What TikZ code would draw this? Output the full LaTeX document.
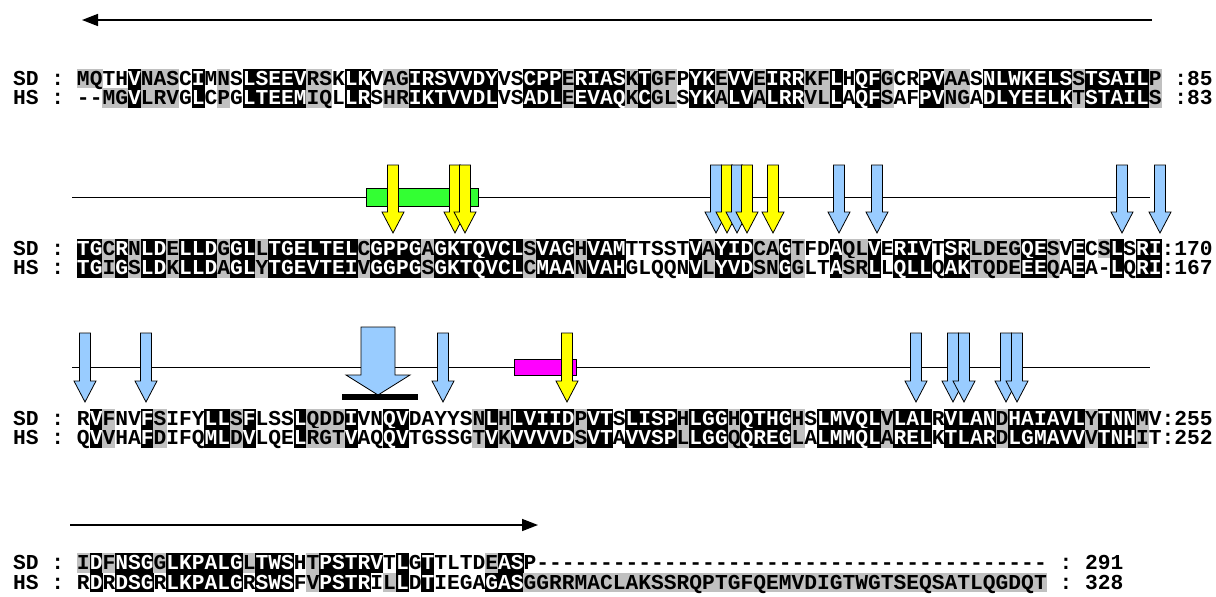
\documentclass[tikz,border=0pt]{standalone}
\usepackage{fontspec}
\usetikzlibrary{arrows.meta}
\newfontfamily\seqfam{Liberation Mono}
\definecolor{shgray}{RGB}{192,192,192}
\definecolor{arblue}{RGB}{153,204,255}
\definecolor{aryellow}{RGB}{255,255,0}
\definecolor{bargreen}{RGB}{51,255,51}
\definecolor{barmag}{RGB}{255,0,255}
\newcommand\seqfont{\seqfam\bfseries\fontsize{21.27}{22}\selectfont}
\newcount\seqcol
\newcommand\cellw{12.76}
\newcommand\seqrow[4]{\seqcol=0 \def\rowname{#1}\def\rowbase{#2}\seqloop#3\relax#4\relax}
\def\seqloop#1#2\relax#3#4\relax{\advance\seqcol by 1 \seqcell{#1}{#3}\ifx\relax#2\relax\else\seqloop#2\relax#4\relax\fi}
\newcommand\seqcell[2]{%
  \pgfmathsetmacro\cx{77+(\the\seqcol-1)*\cellw}%
  \if#2b\fill[black] (\cx-0.2,\rowbase-16.5) rectangle (\cx+\cellw+0.2,\rowbase+3);%
    \node[seqtxt,text=white] (\rowname\the\seqcol) at (\cx+6.38,\rowbase) {#1};%
  \else\if#2g\fill[shgray] (\cx-0.2,\rowbase-16.5) rectangle (\cx+\cellw+0.2,\rowbase+3);%
    \node[seqtxt] (\rowname\the\seqcol) at (\cx+6.38,\rowbase) {#1};%
  \else
    \node[seqtxt] (\rowname\the\seqcol) at (\cx+6.38,\rowbase) {#1};%
  \fi\fi}
\newcommand\dnarrow[4]{% x, top, tip, colour
  \filldraw[fill=#4,draw=black,line width=0.8pt,line join=miter]
   (#1-5.5,#2) -- (#1+5.5,#2) -- (#1+5.5,#3-21) -- (#1+11,#3-21) -- (#1,#3)
   -- (#1-11,#3-21) -- (#1-5.5,#3-21) -- cycle;}
\tikzset{seqtxt/.style={font=\seqfont,inner sep=0pt,anchor=base,text=black},
  lbl/.style={font=\seqfont,inner sep=0pt,anchor=base west,text=black},
  guide/.style={line width=1pt,black},
  bigarrow/.style={line width=1.6pt,-{Triangle[length=16pt,width=12pt]}}}
\begin{document}
\begin{tikzpicture}[x=1pt,y=-1pt]
\fill[white] (0,0) rectangle (1216,597);
\useasboundingbox (0,0) rectangle (1216,597);
% top arrow
\coordinate (ta1) at (1152,20); \coordinate (ta2) at (82,20);
\draw[bigarrow] (ta1) -- (ta2);
% block 1
\node[lbl] (l1s) at (13,85) {SD :};
\node[lbl] (l1h) at (13,104.5) {HS :};
\seqrow{ra}{85}{MQTHVNASCI MNSLSEEVRS KLKVAGIRSV VDYVSCPPER IASKTGFPYK EVVEIRRKFL HQFGCRPVAA SNLWKELSST SAILP}{ggwwbgggwb wgwbbbbbgg wbbwggbbbb bbbwwbbbgb bbbgbggwbb gbbgbbbggb wbbgwwbbgg wbbbbbbbgb bbbbg}
\seqrow{rb}{104.5}{--MGVLRVGL CPGLTEEMIQ LLRSHRIKTV VDLVSADLEE VAQKCGLSYK ALVALRRVLL AQFSAFPVNG ADLYEELKTS TAILS}{wwggbgggwb wgwbbbbbgg wbbwggbbbb bbbwwbbbgb bbbgbggwbb gbbgbbbggb wbbgwwbbgg wbbbbbbbgb bbbbg}
\node[lbl] (n1s) at (1174.2,85) {:85};
\node[lbl] (n1h) at (1174.2,104.5) {:83};
% block 2 annotations
\coordinate (g2a) at (72,197); \coordinate (g2b) at (1150,197);
\draw[guide] (g2a) -- (g2b);
\filldraw[fill=bargreen,draw=black,line width=0.8pt] (366,188) rectangle (478,206);
\dnarrow{393}{165}{233}{aryellow}
\dnarrow{455}{165}{233}{aryellow}
\dnarrow{465}{165}{233}{aryellow}
\dnarrow{716}{165}{233}{arblue}
\dnarrow{727}{165}{233}{aryellow}
\dnarrow{737}{165}{233}{arblue}
\dnarrow{747}{165}{233}{aryellow}
\dnarrow{773}{165}{233}{aryellow}
\dnarrow{839}{165}{233}{arblue}
\dnarrow{877}{165}{233}{arblue}
\dnarrow{1122}{165}{233}{arblue}
\dnarrow{1160}{165}{233}{arblue}
% block 2
\node[lbl] (l2s) at (13,255) {SD :};
\node[lbl] (l2h) at (13,274.5) {HS :};
\seqrow{rc}{255}{TGCRNLDELL DGGLLTGELT ELCGPPGAGK TQVCLSVAGH VAMTTSSTVA YIDCAGTFDA QLVERIVTSR LDEGQESVEC SLSRI}{bbgbgbbgbb bgbbgbbbbb bbgbbbbgbb bbbbbgbbbg bbbwwwwwbg bbbggbgwwb ggbwbbbwbb ggggbbgwbw gbwbb}
\seqrow{rd}{274.5}{TGIGSLDKLL DAGLYTGEVT EIVGGPGSGK TQVCLCMAAN VAHGLQQNVL YVDSNGGLTA SRLLQLLQAK TQDEEEQAEA -LQRI}{bbgbgbbgbb bgbbgbbbbb bbgbbbbgbb bbbbbgbbbg bbbwwwwwbg bbbggbgwwb ggbwbbbwbb ggggbbgwbw wbwbb}
\node[lbl] (n2s) at (1161.4,255) {:170};
\node[lbl] (n2h) at (1161.4,274.5) {:167};
% block 3 annotations
\coordinate (g3a) at (72,367); \coordinate (g3b) at (1150,367);
\draw[guide] (g3a) -- (g3b);
\filldraw[fill=barmag,draw=black,line width=0.8pt] (514,359) rectangle (576,375);
\dnarrow{85}{333}{402}{arblue}
\dnarrow{146}{333}{402}{arblue}
\filldraw[fill=arblue,draw=black,line width=0.8pt,line join=miter]
  (361,327) -- (395,327) -- (395,375) -- (410,375) -- (378,395) -- (346,375) -- (361,375) -- cycle;
\fill[black] (342,394) rectangle (418,400);
\dnarrow{443}{333}{402}{arblue}
\dnarrow{567}{333}{402}{aryellow}
\dnarrow{916}{333}{402}{arblue}
\dnarrow{953}{333}{402}{arblue}
\dnarrow{964}{333}{402}{arblue}
\dnarrow{1006}{333}{402}{arblue}
\dnarrow{1017}{333}{402}{arblue}
% block 3
\node[lbl] (l3s) at (13,425) {SD :};
\node[lbl] (l3h) at (13,444.5) {HS :};
\seqrow{re}{425}{RVFNVFSIFY LLSFLSSLQD DIVNQVDAYY SNLHLVIIDP VTSLISPHLG GHQTHGHSLM VQLVLALRVL ANDHAIAVLY TNNMV}{wbgwwbgwww bbgbwwwbgg gbwwbbwwww wgbgbbbbbg bbwbbbbgbb bgbbbbgwbb bbbgbbbwbb bbgbbbbbbg bbbgw}
\seqrow{rf}{444.5}{QVVHAFDIFQ MLDVLQELRG TVAQQVTGSS GTVKVVVVDS VTAVVSPLLG GQQREGLALM MQLARELKTL ARDLGMAVVV TNHIT}{wbgwwbgwww bbgbwwwbgg gbwwbbwwww wgbgbbbbbg bbwbbbbgbb bgbbbbgwbb bbbgbbbwbb bbgbbbbbbg bbbgw}
\node[lbl] (n3s) at (1161.4,425) {:255};
\node[lbl] (n3h) at (1161.4,444.5) {:252};
% block 4
\coordinate (ba1) at (70,525); \coordinate (ba2) at (538,525);
\draw[bigarrow] (ba1) -- (ba2);
\node[lbl] (l4s) at (13,569.5) {SD :};
\node[lbl] (l4h) at (13,589) {HS :};
\seqrow{rg}{569.5}{IDFNSGGLKP ALGLTWSHTP STRVTLGTTL TDEASP---- ---------- ---------- ---------- ------}{gbgbbbgbbb bbbgbbbwgb bbbbwbwbww wwgbbwwwww wwwwwwwwww wwwwwwwwww wwwwwwwwww wwwwww}
\seqrow{rh}{589}{RDRDSGRLKP ALGRSWSFVP STRILLDTIE GAGASGGRRM ACLAKSSRQP TGFQEMVDIG TWGTSEQSAT LQGDQT}{wbwbbbwbbb bbbwbbbwgb bbbwgbwbww wwbbbggggg gggggggggg gggggggggg gggggggggg gggggg}
\node[lbl] (c4s) at (1059.3,569.5) {:};
\node[lbl] (c4h) at (1059.3,589) {:};
\node[lbl] (n4s) at (1084.8,569.5) {291};
\node[lbl] (n4h) at (1084.8,589) {328};
\end{tikzpicture}
\end{document}
